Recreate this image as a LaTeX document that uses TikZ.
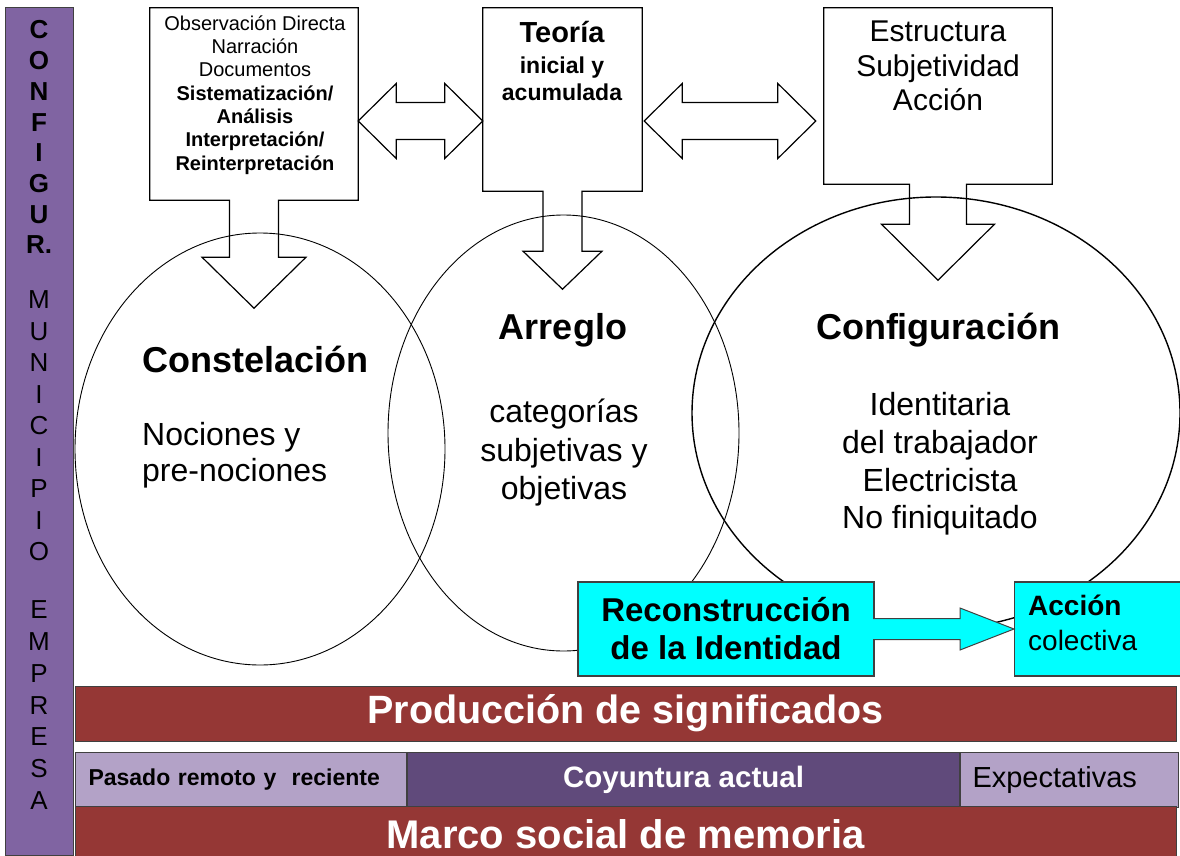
\documentclass[tikz,border=0pt]{standalone}
\usepackage{fontspec}
\setmainfont{Liberation Sans}
\usetikzlibrary{positioning,calc,shapes.geometric}
\definecolor{sidepurple}{HTML}{8064A2}
\definecolor{barred}{HTML}{953735}
\definecolor{lightpurple}{HTML}{B3A2C7}
\definecolor{darkpurple}{HTML}{604A7B}
\definecolor{aquablue}{HTML}{00FFFF}
\newcommand{\fsz}[2]{\fontsize{#1}{#2}\selectfont}
% box outline with a block arrow going down: node, shaft half, shaft length, head half, head length
\newcommand{\callout}[5]{%
  \draw[line width=1.2pt] (#1.south west) -- (#1.north west) -- (#1.north east) -- (#1.south east)
    -- ($(#1.south)+(#2,0)$) -- ($(#1.south)+(#2,#3)$) -- ($(#1.south)+(#4,#3)$)
    -- ($(#1.south)+(0,#3+#5)$) -- ($(#1.south)+(-#4,#3)$) -- ($(#1.south)+(-#2,#3)$)
    -- ($(#1.south)+(-#2,0)$) -- cycle;}
% double block arrow between two named points on one row
\newcommand{\dblarrow}[2]{%
  \draw[line width=1.2pt] (#1) -- ($(#1)+(38,-37.5)$) -- ($(#1)+(38,-18.5)$) -- ($(#2)+(-38,-18.5)$)
    -- ($(#2)+(-38,-37.5)$) -- (#2) -- ($(#2)+(-38,37.5)$) -- ($(#2)+(-38,18.5)$)
    -- ($(#1)+(38,18.5)$) -- ($(#1)+(38,37.5)$) -- cycle;}
\tikzset{
  txt/.style={inner sep=0pt, align=center},
  round node/.style={draw, ellipse, line width=0.9pt, inner sep=0pt},
  cyan box/.style={draw=black!75, line width=1.2pt, fill=aquablue, inner sep=0pt},
  wide bar/.style={draw=black!75, line width=1pt, fill=barred, text=white, inner sep=0pt},
  cell/.style={draw=black!75, line width=1pt, inner sep=0pt, minimum height=55pt},
  side letter/.style={inner sep=0pt, font=\fsz{26}{28}},
}

\begin{document}
\begin{tikzpicture}[x=1pt, y=-1pt, line join=miter]
    \useasboundingbox (0,0) rectangle (1180,856);
    % Ellipses
    \node[round node, minimum width=370pt, minimum height=432pt] (cons) at (260,449) {};
    \node[round node, minimum width=351pt, minimum height=436pt] (arr) at (563.5,433) {};
    \node[round node, line width=1.4pt, minimum width=488pt, minimum height=432pt] (conf) at (936,413) {};
    % Top boxes
    \node[minimum width=208pt, minimum height=192pt] (obs) at (254,104) {};
    \node[minimum width=159pt, minimum height=183pt] (teo) at (562.5,99.5) {};
    \node[minimum width=228pt, minimum height=176pt] (est) at (938,96) {};
    \callout{obs}{24.5}{57}{52}{51}
    \callout{teo}{19.5}{60}{39.5}{38}
    \callout{est}{28.5}{40}{56.5}{56}
    \node[txt, font=\fsz{20}{23.3}] (obstxt) at (255,95) {Observación Directa\\Narración\\Documentos\\
        \textbf{Sistematización/}\\\textbf{Análisis}\\\textbf{Interpretación/}\\\textbf{Reinterpretación}};
    \node[txt, font=\fsz{29}{32}\bfseries] (teotit) at (562,32) {Teoría};
    \node[txt, font=\fsz{23}{27}\bfseries, below=14pt of teotit] (teotxt) {inicial y\\acumulada};
    \node[txt, font=\fsz{30}{34.5}] (esttxt) at (938,66) {Estructura\\Subjetividad\\Acción};
    % Double arrows
    \coordinate (dbly) at (0,121);
    \coordinate (da1) at (obs.east |- dbly);
    \coordinate (da2) at (teo.west |- dbly);
    \coordinate (db1) at ($(teo.east |- dbly)+(2,0)$);
    \coordinate (db2) at ($(est.west |- dbly)+(-8,0)$);
    \dblarrow{da1}{da2}
    \dblarrow{db1}{db2}
    % Texts in the ellipses
    \node[txt, font=\fsz{36}{40}\bfseries, anchor=west] (constit) at (142,359) {Constelación};
    \node[txt, font=\fsz{32}{36}, align=left, anchor=west] (constxt) at (142,455) {Nociones y\\pre-nociones};
    \node[txt, font=\fsz{36}{40}\bfseries] (arrtit) at (563,330) {Arreglo};
    \node[txt, font=\fsz{32}{38.5}] (arrtxt) at (564,453) {categorías\\subjetivas y\\objetivas};
    \node[txt, font=\fsz{36}{40}\bfseries] (conftit) at (938,330) {Configuración};
    \node[txt, font=\fsz{32}{37.7}] (conftxt) at (940,464) {Identitaria\\del trabajador\\Electricista\\No finiquitado};
    % Cyan boxes
    \node[cyan box, minimum width=296pt, minimum height=94pt, align=center, font=\fsz{33}{38}\bfseries] (rec) at (726,629) {Reconstrucción\\de la Identidad};
    \node[cyan box, minimum height=94pt, text width=148pt, inner xsep=14pt, align=left, anchor=west] (acc) at (1014,629) {};
    \node[txt, align=left, anchor=west, font=\fsz{28}{35}] (acctxt) at (1028,623) {\textbf{Acción}\\colectiva};
    \filldraw[fill=aquablue, draw=black!75, line width=1pt] ($(rec.east)+(-1.5,-10.5)$) -- ($(acc.west)+(-54,-10.5)$) -- ($(acc.west)+(-54,-21)$)
        -- (acc.west) -- ($(acc.west)+(-54,21)$) -- ($(acc.west)+(-54,10.5)$) -- ($(rec.east)+(-1.5,10.5)$);
    % Bottom bars
    \node[wide bar, minimum width=1101pt, minimum height=55pt, font=\fsz{39.5}{41}\bfseries] (prod) at (625.5,713.5) {Producción de significados};
    \node[cell, fill=lightpurple, text width=305pt, inner xsep=13pt, align=left, anchor=west, font=\fsz{23}{25}\bfseries] (pas) at (75,779.5) {Pasado remoto y\ \ reciente};
    \node[cell, fill=darkpurple, text=white, minimum width=552pt, font=\fsz{29.5}{31}\bfseries, right=0pt of pas] (coy) {Coyuntura actual};
    \node[cell, fill=lightpurple, text width=194pt, inner xsep=12pt, align=left, font=\fsz{29}{30}, right=0pt of coy] (expe) {Expectativas};
    \node[wide bar, minimum width=1101pt, minimum height=56pt, font=\fsz{40}{42}\bfseries] (marco) at (625.5,834) {Marco social de memoria};
    % Side bar
    \node[draw=black!75, line width=1pt, fill=sidepurple, minimum width=68pt, minimum height=847pt, inner sep=0pt] (side) at (39,431.5) {};
    \foreach \c [count=\i from 0] in {C,O,N,F,I,G,U,R.}
        \node[side letter, font=\fsz{26}{28}\bfseries] (cf\i) at (39,30+30.7*\i) {\c};
    \foreach \c [count=\i from 0] in {M,U,N,I,C,I,P,I,O}
        \node[side letter] (mu\i) at (39,300+31.5*\i) {\c};
    \foreach \c [count=\i from 0] in {E,M,P,R,E,S,A}
        \node[side letter] (em\i) at (39,610+31.7*\i) {\c};
\end{tikzpicture}
\end{document}
